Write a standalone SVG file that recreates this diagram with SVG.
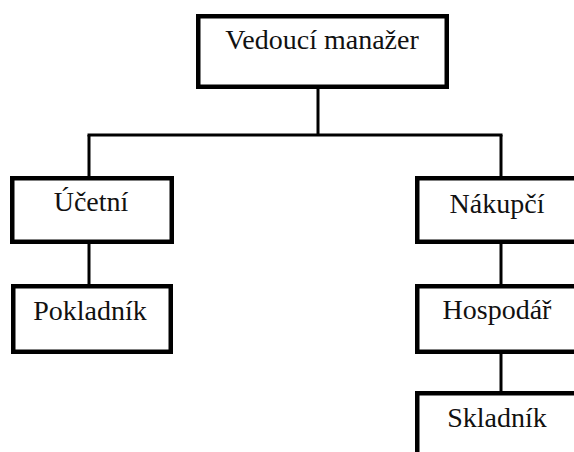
<svg xmlns="http://www.w3.org/2000/svg" width="574" height="452" viewBox="0 0 574 452">
<style>
.box{fill:#fff;stroke:#000;stroke-width:4.5}
.lbl{font-family:"Liberation Serif","Times New Roman",serif;font-size:28px;fill:#111;text-anchor:middle}
.con{stroke:#000;stroke-width:3;fill:none}
</style>
<rect width="574" height="452" fill="#fff"/>
<g id="connectors">
<line class="con" x1="318" y1="89" x2="318" y2="135"/>
<line class="con" x1="87.5" y1="135" x2="502.5" y2="135"/>
<line class="con" x1="89" y1="135" x2="89" y2="177"/>
<line class="con" x1="501" y1="135" x2="501" y2="177"/>
<line class="con" x1="89" y1="243" x2="89" y2="285"/>
<line class="con" x1="501" y1="243" x2="501" y2="285"/>
<line class="con" x1="501" y1="353" x2="501" y2="392"/>
</g>
<g id="vedouci">
<rect class="box" x="198.25" y="16.25" width="248.5" height="70.5"/>
<text class="lbl" x="322" y="49">Vedoucí manažer</text>
</g>
<g id="ucetni">
<rect class="box" x="12.25" y="178.25" width="159.5" height="63.5"/>
<text class="lbl" x="91" y="211">Účetní</text>
</g>
<g id="pokladnik">
<rect class="box" x="13.25" y="286.25" width="157.5" height="65.5"/>
<text class="lbl" x="90" y="320">Pokladník</text>
</g>
<g id="nakupci">
<rect class="box" x="417.25" y="178.25" width="170" height="63.5"/>
<text class="lbl" x="497" y="213">Nákupčí</text>
</g>
<g id="hospodar">
<rect class="box" x="417.25" y="286.25" width="170" height="65.5"/>
<text class="lbl" x="497" y="319">Hospodář</text>
</g>
<g id="skladnik">
<rect class="box" x="417.25" y="393.25" width="170" height="80"/>
<text class="lbl" x="497" y="427">Skladník</text>
</g>
</svg>
